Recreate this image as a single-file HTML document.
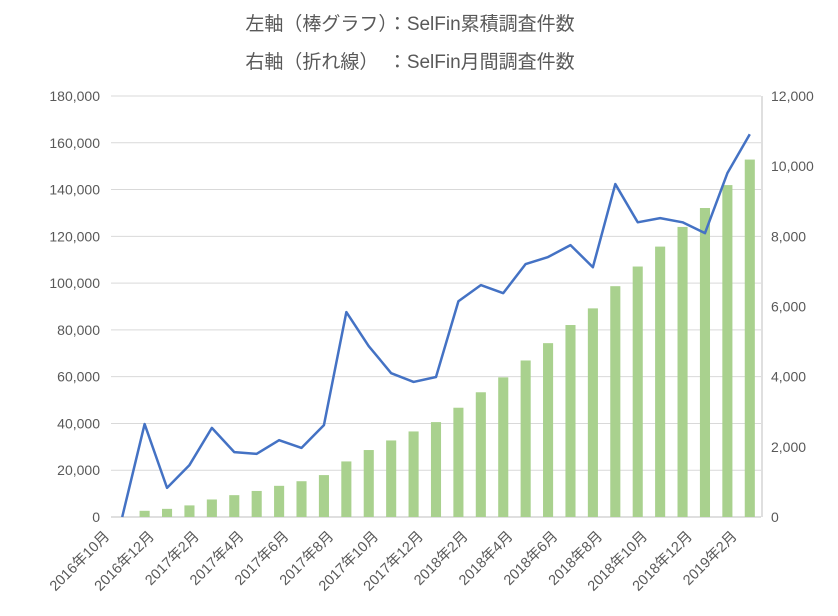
<!DOCTYPE html>
<html><head><meta charset="utf-8"><style>
body{margin:0;background:#fff;}
svg text{font-family:"Liberation Sans","Noto Sans CJK JP",sans-serif;}
</style></head><body>
<svg id="chart" width="838" height="611" viewBox="0 0 838 611" xmlns="http://www.w3.org/2000/svg">
<text x="410" y="30" text-anchor="middle" font-size="19" fill="#595959">左軸（棒グラフ）：SelFin累積調査件数</text>
<text x="410" y="68" text-anchor="middle" font-size="19" fill="#595959">右軸（折れ線）　：SelFin月間調査件数</text>
<g id="grid"></g>
<g id="bars"></g>
<g id="axes"></g>
<g id="line"></g>
</svg>
<script>
const categories=["2016年10月","2016年11月","2016年12月","2017年1月","2017年2月","2017年3月","2017年4月","2017年5月","2017年6月","2017年7月","2017年8月","2017年9月","2017年10月","2017年11月","2017年12月","2018年1月","2018年2月","2018年3月","2018年4月","2018年5月","2018年6月","2018年7月","2018年8月","2018年9月","2018年10月","2018年11月","2018年12月","2019年1月","2019年2月"];
const cumulative=[0,2650,3480,4960,7490,9340,11140,13330,15300,17920,23760,28630,32730,36580,40570,46720,53330,59710,66920,74330,82080,89200,98690,107090,115610,124020,132110,141910,152820];
const monthly=[0,2650,830,1480,2540,1850,1800,2190,1970,2620,5840,4870,4100,3850,3990,6150,6610,6380,7210,7410,7750,7120,9490,8400,8520,8400,8090,9800,10910];
const leftTicks=[0,20000,40000,60000,80000,100000,120000,140000,160000,180000];
const rightTicks=[0,2000,4000,6000,8000,10000,12000];
const NS="http://www.w3.org/2000/svg";
const L=111,R=761,T=96,B=517;
const bw=(R-L)/categories.length;
const xc=i=>L+bw*(i+0.5);
const yl=v=>B-(v/180000)*(B-T);
const yr=v=>B-(v/12000)*(B-T);
function mk(tag,parent,attrs){const e=document.createElementNS(NS,tag);for(const k in attrs)e.setAttribute(k,attrs[k]);parent.appendChild(e);return e;}
const fmt=v=>v.toLocaleString("en-US");
const grid=document.getElementById("grid"),axes=document.getElementById("axes");
leftTicks.forEach(v=>{
 const g=mk("line",grid,{x1:L,x2:R,y1:yl(v),y2:yl(v),stroke:v===0?"#bfbfbf":"#d9d9d9","stroke-width":1});
 
 
 const t=mk("text",axes,{x:100,y:yl(v)+5,"text-anchor":"end","font-size":"14",fill:"#595959"});
 t.textContent=fmt(v);
 
 
});
const ra=mk("line",axes,{x1:R+1,x2:R+1,y1:T,y2:B,stroke:"#bfbfbf","stroke-width":1});


rightTicks.forEach(v=>{
 const t=mk("text",axes,{x:771,y:yr(v)+5,"text-anchor":"start","font-size":"14",fill:"#595959"});
 t.textContent=fmt(v);
 
 
});
const bars=document.getElementById("bars");
cumulative.forEach((v,i)=>{
 const w=bw*0.45;
 const r=mk("rect",bars,{x:xc(i)-w/2,y:yl(v),width:w,height:B-yl(v),fill:"#a9d18e"});
 
 
});
categories.forEach((c,i)=>{
 if(i%2!==0)return;
 const x=xc(i)-12,y=537;
 const t=mk("text",axes,{x:x,y:y,"text-anchor":"end","font-size":"14.5",fill:"#595959",transform:`rotate(-45 ${x} ${y})`});
 t.textContent=c;
 
 
});
const lg=document.getElementById("line");
const p=mk("polyline",lg,{points:monthly.map((v,i)=>xc(i)+","+yr(v)).join(" "),fill:"none",stroke:"#4472c4","stroke-width":2.5,"stroke-linejoin":"round"});


</script>
</body></html>
